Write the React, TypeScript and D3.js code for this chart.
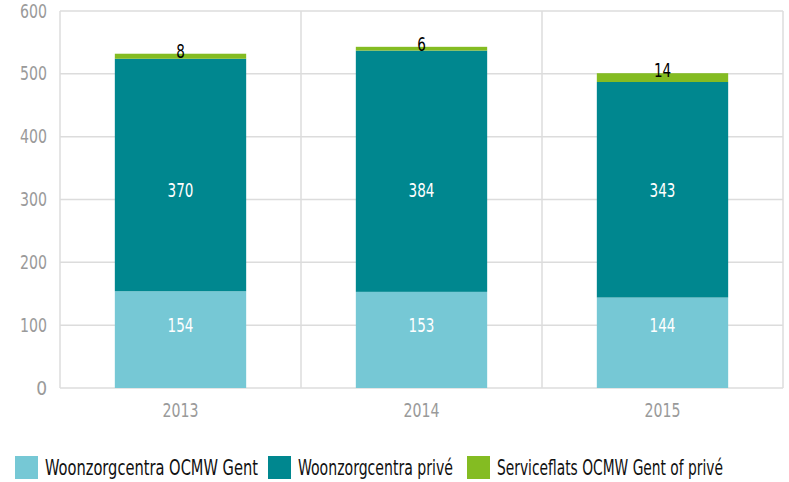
import React from "react";
import * as d3 from "d3";

const years = ["2013", "2014", "2015"];
const seriesNames = ["Woonzorgcentra OCMW Gent", "Woonzorgcentra privé", "Serviceflats OCMW Gent of privé"];
const ocmw = [154, 153, 144];
const prive = [370, 384, 343];
const serviceflats = [8, 6, 14];
const yTicks = [0, 100, 200, 300, 400, 500, 600];
const colors = ["#76C8D5", "#00878F", "#84BC22"];
// value at which inner labels of each stacked series sit
const labelAt = [99, 315];

const W = 789, H = 482;
const m = { left: 60, right: 6, top: 11, bottom: 94 };
const FONT = "'DejaVu Sans Condensed', 'Liberation Sans Narrow', sans-serif";

export default function App() {
  const x = d3.scaleBand().domain(years).range([m.left, W - m.right]).paddingInner(0).paddingOuter(0);
  const y = d3.scaleLinear().domain([0, 600]).range([H - m.bottom, m.top]);
  const data = years.map((yr, i) => ({ year: yr, a: ocmw[i], b: prive[i], c: serviceflats[i] }));
  const stack = d3.stack<any>().keys(["a", "b", "c"])(data);
  const bw = x.bandwidth() * 0.545;
  const legendX = [15, 268, 467];
  const legendW = [213, 155, 226];
  return (
    <svg width={W} height={H} style={{ position: "absolute", left: 0, top: 0, fontFamily: FONT }}>
      {yTicks.map((t) => (
        <g key={t}>
          <line x1={m.left} x2={W - m.right} y1={y(t)} y2={y(t)} stroke="#dcdcdc" strokeWidth={1.5} />
          <text x={47} y={y(t)} dy="0.35em" textAnchor="end" fill="#9a9a9a" fontSize={19} textLength={t === 0 ? undefined : 27} lengthAdjust="spacingAndGlyphs">{t}</text>
        </g>
      ))}
      {[...years.map((yr) => x(yr)!), W - m.right].map((xv, i) => (
        <line key={i} x1={xv} x2={xv} y1={m.top} y2={y(0)} stroke="#dcdcdc" strokeWidth={1.5} />
      ))}
      {stack.map((s, si) => (
        <g key={si}>
          {s.map((d, i) => {
            const cx = x(years[i])! + x.bandwidth() / 2;
            const top = y(d[1]), bot = y(d[0]);
            const v = d[1] - d[0];
            const tl = String(v).length * 8.6;
            return (
              <g key={i}>
                <rect x={cx - bw / 2} width={bw} y={top} height={bot - top} fill={colors[si]} />
                {si < 2 ? (
                  <text x={cx} y={y(labelAt[si])} dy="0.35em" textAnchor="middle" fill="#fff" fontSize={19} textLength={tl} lengthAdjust="spacingAndGlyphs">
                    {v}
                  </text>
                ) : (
                  <text x={cx} y={top} dy="0.2em" textAnchor="middle" fill="#000" fontSize={19} textLength={tl} lengthAdjust="spacingAndGlyphs">
                    {v}
                  </text>
                )}
              </g>
            );
          })}
        </g>
      ))}
      {years.map((yr) => (
        <text key={yr} x={x(yr)! + x.bandwidth() / 2} y={410} dy="0.35em" textAnchor="middle" fill="#9a9a9a" fontSize={19} textLength={36} lengthAdjust="spacingAndGlyphs">
          {yr}
        </text>
      ))}
      {seriesNames.map((n, i) => (
        <g key={n}>
          <rect x={legendX[i]} y={456} width={23} height={23} fill={colors[i]} />
          <text x={legendX[i] + 30} y={468} dy="0.35em" fill="#111" fontSize={21} textLength={legendW[i]} lengthAdjust="spacingAndGlyphs">{n}</text>
        </g>
      ))}
    </svg>
  );
}
